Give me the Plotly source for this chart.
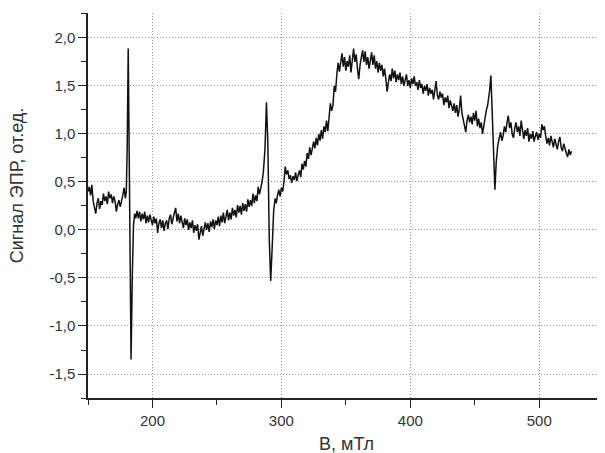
import plotly.graph_objects as go

# EPR spectrum read off the picture.  The noisy stretches are sampled every 1 mT
# starting at the given field; the three sharp lines are listed point by point.
base1_start = 150
base1_signal = [
    0.40, 0.45, 0.36, 0.47, 0.30, 0.24, 0.17, 0.28, 0.33, 0.22,
    0.30, 0.26, 0.38, 0.30, 0.35, 0.27, 0.40, 0.33, 0.37, 0.28,
    0.35, 0.30, 0.19, 0.27, 0.31, 0.24, 0.29, 0.36, 0.44, 0.33,
]
line1_field = [179.7, 180.4, 181.2, 182.3, 183.4, 184.4, 185.3, 186.2]
line1_signal = [0.40, 0.85, 1.89, 0.30, -1.35, -0.45, 0.05, 0.17]

base2_start = 187
base2_signal = [
    0.12, 0.20, 0.12, 0.19, 0.09, 0.17, 0.11, 0.19, 0.07, 0.15,
    0.08, 0.16, 0.10, 0.05, 0.14, 0.07, 0.12, -0.03, 0.07, 0.11,
    0.02, 0.10, -0.01, 0.07, 0.10, 0.01, 0.12, 0.16, 0.06, 0.14,
    0.18, 0.23, 0.09, 0.17, 0.07, 0.15, 0.08, 0.02, 0.12, 0.05,
    0.11, 0.00, 0.08, 0.02, 0.10, -0.03, 0.05, -0.01, 0.06, -0.10,
    -0.03, 0.04, -0.06, 0.03, 0.08, 0.00, 0.07, -0.02, 0.09, 0.03,
    0.11, 0.01, 0.10, 0.05, 0.14, 0.04, 0.15, 0.08, 0.18, 0.07,
    0.16, 0.21, 0.10, 0.18, 0.11, 0.23, 0.15, 0.21, 0.13, 0.26,
    0.18, 0.25, 0.16, 0.28, 0.20, 0.27, 0.19, 0.32, 0.24, 0.31,
    0.25, 0.38, 0.28, 0.36, 0.30, 0.45, 0.37, 0.43, 0.50, 0.60,
]
line2_field = [287.3, 288.4, 289.5, 290.6, 291.7, 292.8, 294.0, 295.2]
line2_signal = [0.85, 1.33, 0.90, -0.10, -0.53, -0.20, 0.20, 0.33]

base3_start = 296
base3_signal = [
    0.28, 0.36, 0.42, 0.35, 0.44, 0.40, 0.50, 0.66, 0.58, 0.62,
    0.53, 0.57, 0.49, 0.56, 0.52, 0.60, 0.51, 0.57, 0.62, 0.55,
    0.69, 0.63, 0.72, 0.66, 0.80, 0.74, 0.86, 0.78, 0.84, 0.92,
    0.85, 0.96, 0.88, 1.00, 0.93, 1.04, 0.95, 1.08, 1.02, 1.14,
    1.03, 1.18, 1.32, 1.24, 1.30, 1.50, 1.44, 1.62, 1.74, 1.65,
    1.78, 1.84, 1.70, 1.80, 1.66, 1.76, 1.70, 1.82, 1.64, 1.78,
    1.89, 1.75, 1.83, 1.68, 1.57, 1.72, 1.80, 1.87, 1.75, 1.86,
    1.72, 1.80, 1.68, 1.78, 1.85, 1.72, 1.82, 1.68, 1.76, 1.64,
    1.74, 1.66, 1.72, 1.60, 1.68, 1.58, 1.44, 1.54, 1.62, 1.55,
    1.68, 1.58, 1.66, 1.54, 1.62, 1.56, 1.64, 1.52, 1.60, 1.50,
    1.58, 1.62, 1.50, 1.56, 1.48, 1.58, 1.52, 1.60, 1.50, 1.54,
    1.46, 1.56, 1.48, 1.52, 1.42, 1.50, 1.45, 1.52, 1.40, 1.48,
    1.42, 1.46, 1.36, 1.44, 1.55, 1.40, 1.36, 1.44, 1.38, 1.42,
    1.30, 1.38, 1.33, 1.40, 1.27, 1.35, 1.30, 1.24, 1.32, 1.22,
    1.30, 1.18, 1.26, 1.40, 1.22, 1.14, 1.06, 1.02, 1.14, 1.20,
    1.12, 1.18, 1.10, 1.22, 1.14, 1.24, 1.08, 1.16, 1.06, 1.12,
    1.00, 1.10, 1.18, 1.25, 1.30,
]
line3_field = [461.5, 462.5, 463.6, 464.7, 465.6, 466.6, 467.8]
line3_signal = [1.45, 1.61, 1.20, 0.60, 0.42, 0.70, 0.88]

base4_start = 469
base4_signal = [
    0.96, 1.02, 0.93, 0.98, 1.08, 1.02, 1.12, 1.19, 1.06, 1.12,
    1.00, 0.96, 1.06, 1.12, 1.02, 1.08, 0.98, 1.14, 1.04, 0.95,
    1.04, 0.98, 1.06, 0.92, 1.00, 0.95, 1.03, 0.92, 0.98, 1.02,
    0.94, 1.00, 0.96, 1.10, 1.04, 1.08, 0.98, 0.90, 0.96, 0.88,
    0.98, 0.90, 0.86, 0.95, 0.88, 0.84, 0.92, 0.97, 0.86, 0.82,
    0.90, 0.84, 0.80, 0.76, 0.84, 0.78, 0.82,
]

x_tickvals = [200, 300, 400, 500]
x_ticktext = ["200", "300", "400", "500"]
y_tickvals = [-1.5, -1.0, -0.5, 0.0, 0.5, 1.0, 1.5, 2.0]
y_ticktext = ["-1,5", "-1,0", "-0,5", "0,0", "0,5", "1,0", "1,5", "2,0"]


def sampled(start, values):
    return [start + i for i in range(len(values))]


field_mt = (
    sampled(base1_start, base1_signal) + line1_field
    + sampled(base2_start, base2_signal) + line2_field
    + sampled(base3_start, base3_signal) + line3_field
    + sampled(base4_start, base4_signal)
)
signal = (
    base1_signal + line1_signal + base2_signal + line2_signal
    + base3_signal + line3_signal + base4_signal
)

FONT = "Liberation Sans, Arial, sans-serif"
GRID = "#8f8fe6"
INK = "#222222"

fig = go.Figure()
fig.add_trace(
    go.Scatter(
        x=field_mt,
        y=signal,
        mode="lines",
        line=dict(color="#111111", width=1.5),
        showlegend=False,
    )
)

axis_common = dict(
    showline=True,
    linecolor=INK,
    linewidth=1.5,
    ticks="outside",
    ticklen=8,
    tickwidth=1.3,
    tickcolor=INK,
    showgrid=True,
    gridcolor=GRID,
    griddash="1px,2px",
    gridwidth=1,
    zeroline=False,
    automargin=False,
    tickfont=dict(family=FONT, size=15, color="#333333"),
)

# the page has an 8 px body margin, so the figure is sized to end at the window edge
fig.update_layout(
    width=597,
    height=445,
    margin=dict(l=80, r=0, t=5, b=55),
    plot_bgcolor="white",
    paper_bgcolor="white",
    xaxis=dict(
        range=[150, 551],
        tickvals=x_tickvals,
        ticktext=x_ticktext,
        minor=dict(ticks="outside", dtick=50, tick0=0, ticklen=5, tickcolor=INK, showgrid=False),
        **axis_common,
    ),
    yaxis=dict(
        range=[-1.75, 2.26],
        tickvals=y_tickvals,
        ticktext=y_ticktext,
        minor=dict(ticks="outside", dtick=0.25, tick0=0, ticklen=5, tickcolor=INK, showgrid=False),
        **axis_common,
    ),
    annotations=[
        dict(
            text="Сигнал ЭПР, от.ед.",
            xref="paper", yref="paper",
            x=-0.137, y=0.553,
            xanchor="center", yanchor="middle",
            textangle=-90,
            showarrow=False,
            font=dict(family=FONT, size=18, color="#333333"),
        ),
        dict(
            text="B, мТл",
            xref="paper", yref="paper",
            x=0.5, y=-0.119,
            xanchor="center", yanchor="middle",
            showarrow=False,
            font=dict(family=FONT, size=18, color="#333333"),
        ),
    ],
)

fig.write_html("out.html")
